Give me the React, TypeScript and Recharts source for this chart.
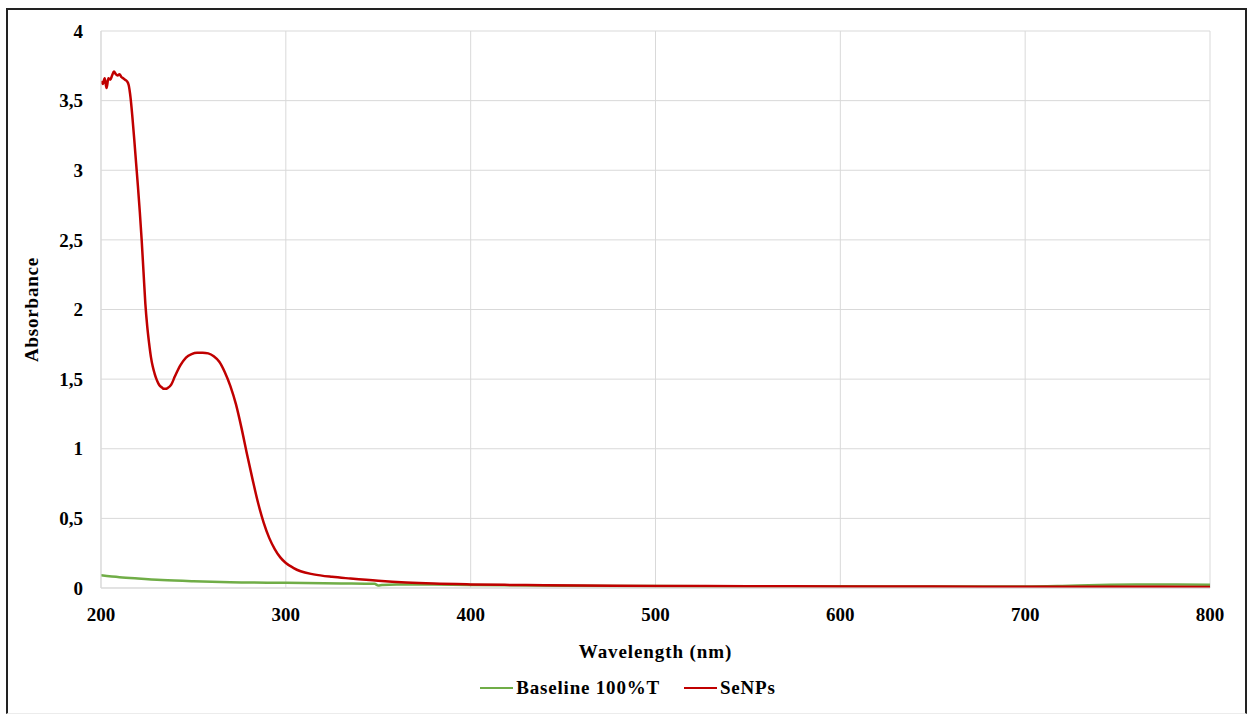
import React from "react";
import { LineChart, Line, XAxis, YAxis, CartesianGrid, Legend, Label } from "recharts";

const senpsWavelength = [
  200, 201, 202, 203, 204, 205, 206, 207, 208, 209, 210, 211, 212, 213, 214, 215, 216, 217, 218, 219,
  220, 221, 222, 223, 224, 225, 226, 227, 228, 229, 230, 231, 232, 233, 234, 235, 236, 238, 240, 243,
  246, 249, 252, 255, 258, 261, 264, 267, 270, 273, 276, 279, 282, 285, 288, 291, 294, 297, 300, 304,
  308, 315, 325, 335, 350, 365, 380, 400, 430, 460, 500, 550, 600, 650, 700, 750, 800,
];
const senpsAbsorbance = [
  3.64, 3.62, 3.66, 3.59, 3.66, 3.65, 3.68, 3.71, 3.69, 3.68, 3.69, 3.67, 3.66, 3.65, 3.64, 3.61, 3.52, 3.38, 3.22, 3.05,
  2.88, 2.7, 2.5, 2.27, 2.04, 1.88, 1.76, 1.66, 1.59, 1.54, 1.5, 1.47, 1.45, 1.44, 1.43, 1.43, 1.435, 1.46, 1.52, 1.6,
  1.655, 1.68, 1.69, 1.69, 1.685, 1.665, 1.625, 1.55, 1.45, 1.32, 1.15, 0.96, 0.78, 0.61, 0.47, 0.36, 0.28, 0.22, 0.18, 0.145,
  0.12, 0.098, 0.08, 0.068, 0.052, 0.04, 0.032, 0.026, 0.021, 0.018, 0.015, 0.013, 0.011, 0.01, 0.009, 0.009, 0.008,
];

const baselineWavelength = [
  200, 210, 220, 233, 250, 270, 300, 330, 348, 350, 352, 360, 380, 400, 450, 500, 550, 600, 650, 700,
  720, 740, 760, 800,
];
const baselineAbsorbance = [
  0.092, 0.078, 0.068, 0.057, 0.048, 0.041, 0.037, 0.033, 0.03, 0.018, 0.022, 0.026, 0.025, 0.022, 0.017, 0.014, 0.013, 0.012, 0.011, 0.011,
  0.015, 0.022, 0.025, 0.024,
];

const xTicks = [200, 300, 400, 500, 600, 700, 800];
const yTicks = [0, 0.5, 1, 1.5, 2, 2.5, 3, 3.5, 4];

const seriesNames = ["Baseline 100%T", "SeNPs"];
const seriesColors = ["#70ad47", "#c00000"];

const senpsData = senpsWavelength.map((w, i) => ({ w, a: senpsAbsorbance[i] }));
const baselineData = baselineWavelength.map((w, i) => ({ w, a: baselineAbsorbance[i] }));

const FONT = '"Liberation Serif", "Times New Roman", serif';

const renderLegend = () => (
  <div
    style={{
      display: "flex",
      justifyContent: "center",
      paddingLeft: 5,
      fontFamily: FONT,
      fontWeight: "bold",
      fontSize: 19,
      letterSpacing: 0.8,
      color: "#000",
    }}
  >
    {seriesNames.map((n, i) => (
      <div key={n} style={{ display: "flex", alignItems: "center", marginRight: i === 0 ? 24 : 0 }}>
        <span style={{ display: "inline-block", width: 33, height: 2.5, background: seriesColors[i], marginRight: 3 }} />
        <span>{n}</span>
      </div>
    ))}
  </div>
);

export default function App() {
  return (
    <div
      style={{
        position: "absolute",
        left: 6,
        top: 8,
        width: 1241,
        height: 706,
        borderTop: "2px solid #222",
        borderLeft: "2px solid #222",
        borderRight: "2px solid #222",
        borderBottom: "1px solid #ececec",
        boxSizing: "border-box",
        background: "#fff",
      }}
    >
      <LineChart
        width={1237}
        height={701}
        margin={{ top: 21, right: 35, left: 33, bottom: 12 }}
      >
        <CartesianGrid stroke="#d9d9d9" strokeWidth={1} horizontal vertical />
        <XAxis
          type="number"
          dataKey="w"
          domain={[200, 800]}
          ticks={xTicks}
          allowDataOverflow
          stroke="#d9d9d9"
          tickLine={false}
          tick={{ fill: "#000", fontFamily: FONT, fontWeight: "bold", fontSize: 19 }}
          tickMargin={14}
          height={89}
        >
          <Label
            value="Wavelength (nm)"
            position="insideTop"
            offset={57}
            style={{ fill: "#000", fontFamily: FONT, fontWeight: "bold", fontSize: 19, letterSpacing: 0.9 }}
          />
        </XAxis>
        <YAxis
          type="number"
          domain={[0, 4]}
          ticks={yTicks}
          allowDataOverflow
          stroke="#d9d9d9"
          tickLine={false}
          width={60}
          tickMargin={12}
          tickFormatter={(v: number) => String(v).replace(".", ",")}
          tick={{ fill: "#000", fontFamily: FONT, fontWeight: "bold", fontSize: 19 }}
        >
          <Label
            value="Absorbance"
            angle={-90}
            position="insideLeft"
            offset={-10}
            style={{ fill: "#000", fontFamily: FONT, fontWeight: "bold", fontSize: 19, letterSpacing: 0.8, textAnchor: "middle" }}
          />
        </YAxis>
        <Legend verticalAlign="bottom" content={renderLegend} />
        <Line
          data={baselineData}
          dataKey="a"
          name={seriesNames[0]}
          type="monotone"
          stroke={seriesColors[0]}
          strokeWidth={2.5}
          dot={false}
          activeDot={false}
          isAnimationActive={false}
        />
        <Line
          data={senpsData}
          dataKey="a"
          name={seriesNames[1]}
          type="monotone"
          stroke={seriesColors[1]}
          strokeWidth={2.5}
          dot={false}
          activeDot={false}
          isAnimationActive={false}
        />
      </LineChart>
    </div>
  );
}
